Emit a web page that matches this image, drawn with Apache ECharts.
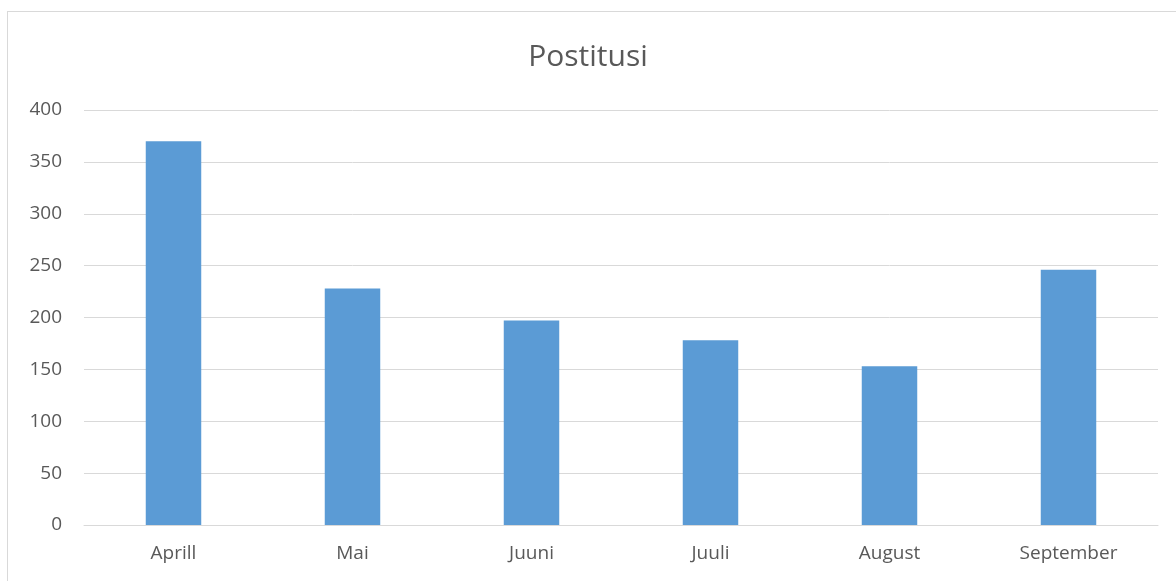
<!DOCTYPE html>
<html>
<head>
<meta charset="utf-8">
<script src="https://cdn.jsdelivr.net/npm/echarts@6/dist/echarts.min.js"></script>
<style>
    html, body { margin: 0; padding: 0; background: #fff; }
    .frame {
        position: absolute; left: 7px; top: 11px; width: 1180px; height: 590px;
        border: 1px solid #d9d9d9; box-sizing: border-box;
    }
    #chart { position: absolute; left: 0; top: 0; width: 1176px; height: 581px; }
</style>
</head>
<body>
<div class="frame"></div>
<div id="chart"></div>
<script>
    const months = ['Aprill', 'Mai', 'Juuni', 'Juuli', 'August', 'September'];
    const posts = [370, 228, 197, 178, 153, 246];
    const yTicks = { min: 0, max: 400, step: 50 };

    const myChart = echarts.init(document.getElementById('chart'));
    const font = 'Open Sans, Liberation Sans, sans-serif';
    myChart.setOption({
        animation: false,
        title: {
            text: 'Postitusi',
            left: 'center',
            top: 37,
            textStyle: { color: '#595959', fontSize: 30, fontWeight: 'normal', fontFamily: font }
        },
        grid: { left: 84, right: 18, top: 110, bottom: 56, containLabel: false },
        xAxis: {
            type: 'category',
            data: months,
            axisLine: { lineStyle: { color: '#d9d9d9', width: 1 } },
            axisTick: { show: false },
            axisLabel: { color: '#595959', fontSize: 19, fontFamily: font, margin: 19 }
        },
        yAxis: {
            type: 'value',
            min: yTicks.min,
            max: yTicks.max,
            interval: yTicks.step,
            axisLine: { show: false },
            axisTick: { show: false },
            splitLine: { lineStyle: { color: '#d9d9d9', width: 1 } },
            axisLabel: { color: '#595959', fontSize: 19, fontFamily: font, margin: 22 }
        },
        series: [{
            type: 'bar',
            data: posts,
            barWidth: '31%',
            itemStyle: { color: '#5b9bd5' }
        }]
    });
</script>
</body>
</html>
